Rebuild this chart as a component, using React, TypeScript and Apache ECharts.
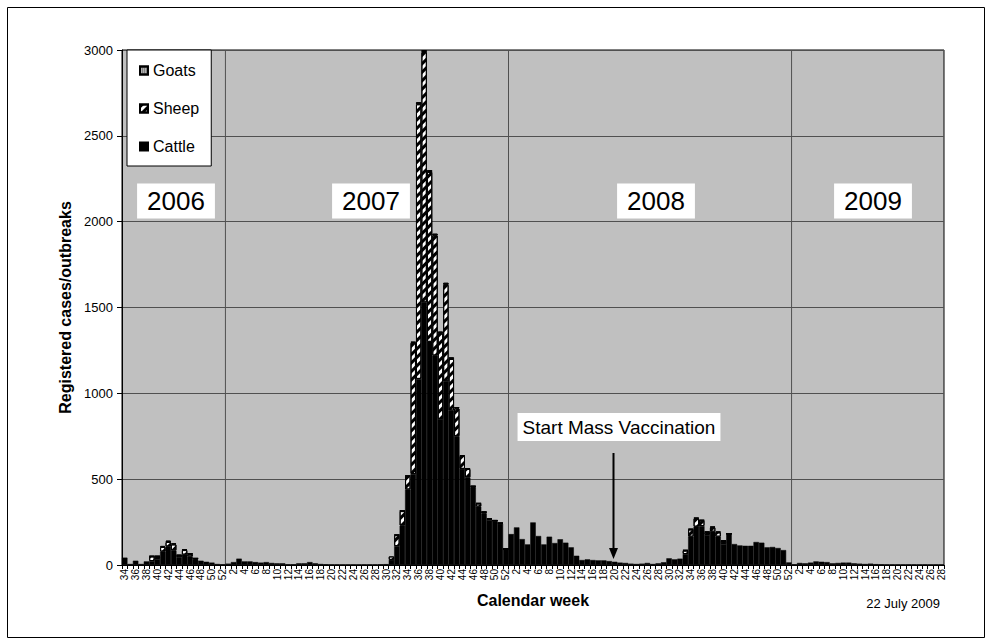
import React, { useEffect, useRef } from "react";
import * as echarts from "echarts";

const FONT = "'Liberation Sans', Arial, Helvetica, sans-serif";

// Calendar weeks (tick labels)
const weeks2006 = [34, 35, 36, 37, 38, 39, 40, 41, 42, 43, 44, 45, 46, 47, 48, 49, 50, 51, 52];
const weeks2007 = [1, 2, 3, 4, 5, 6, 7, 8, 9, 10, 11, 12, 13, 14, 15, 16, 17, 18, 19, 20, 21, 22, 23, 24, 25, 26, 27, 28, 29, 30, 31, 32, 33, 34, 35, 36, 37, 38, 39, 40, 41, 42, 43, 44, 45, 46, 47, 48, 49, 50, 51, 52];
const weeks2008 = [1, 2, 3, 4, 5, 6, 7, 8, 9, 10, 11, 12, 13, 14, 15, 16, 17, 18, 19, 20, 21, 22, 23, 24, 25, 26, 27, 28, 29, 30, 31, 32, 33, 34, 35, 36, 37, 38, 39, 40, 41, 42, 43, 44, 45, 46, 47, 48, 49, 50, 51, 52];
const weeks2009 = [1, 2, 3, 4, 5, 6, 7, 8, 9, 10, 11, 12, 13, 14, 15, 16, 17, 18, 19, 20, 21, 22, 23, 24, 25, 26, 27, 28];

// Cattle
const cattle2006 = [43, 6, 25, 6, 21, 23, 35, 78, 107, 85, 45, 60, 50, 32, 25, 19, 14, 6, 4];
const cattle2007 = [8, 17, 37, 21, 21, 17, 14, 17, 12, 10, 10, 4, 4, 10, 10, 17, 10, 6, 4, 3, 3, 2, 2, 2, 2, 3, 3, 3, 4, 5, 30, 110, 230, 440, 530, 1084, 1530, 1300, 1220, 850, 1070, 900, 750, 560, 510, 450, 340, 300, 262, 255, 240, 92];
const cattle2008 = [180, 219, 151, 120, 248, 169, 120, 165, 128, 150, 130, 103, 54, 29, 33, 29, 27, 27, 23, 19, 14, 12, 8, 6, 8, 12, 6, 10, 16, 39, 33, 37, 64, 165, 223, 227, 175, 194, 165, 122, 180, 122, 114, 112, 112, 134, 130, 103, 105, 99, 87, 15];
const cattle2009 = [4, 12, 10, 14, 21, 19, 17, 10, 12, 14, 14, 10, 8, 6, 8, 5, 4, 3, 3, 3, 2, 3, 3, 2, 3, 2, 2, 2];

// Sheep
const sheep2006 = [0, 0, 0, 0, 0, 27, 15, 27, 27, 35, 11, 27, 15, 6, 0, 0, 0, 0, 0];
const sheep2007 = [0, 0, 0, 0, 0, 0, 0, 0, 0, 0, 0, 0, 0, 0, 0, 0, 0, 0, 0, 0, 0, 0, 0, 0, 0, 0, 0, 0, 0, 0, 20, 64, 84, 78, 765, 1600, 1458, 990, 700, 500, 562, 300, 162, 75, 50, 8, 18, 8, 6, 4, 4, 2];
const sheep2008 = [0, 0, 0, 0, 0, 0, 0, 0, 0, 0, 0, 0, 0, 0, 0, 0, 0, 0, 0, 0, 0, 0, 0, 0, 0, 0, 0, 0, 0, 0, 0, 0, 20, 42, 48, 32, 16, 25, 25, 18, 2, 0, 0, 0, 0, 0, 0, 0, 0, 0, 0, 0];
const sheep2009 = [0, 0, 0, 0, 0, 0, 0, 0, 0, 0, 0, 0, 0, 0, 0, 0, 0, 0, 0, 0, 0, 0, 0, 0, 0, 0, 0, 0];

// Goats
const goats2006 = [0, 0, 0, 0, 0, 2, 2, 6, 8, 6, 2, 4, 3, 1, 0, 0, 0, 0, 0];
const goats2007 = [0, 0, 0, 0, 0, 0, 0, 0, 0, 0, 0, 0, 0, 0, 0, 0, 0, 0, 0, 0, 0, 0, 0, 0, 0, 0, 0, 0, 0, 0, 0, 2, 2, 2, 5, 12, 12, 10, 10, 10, 12, 10, 8, 5, 4, 2, 2, 2, 2, 1, 1, 1];
const goats2008 = [0, 0, 0, 0, 0, 0, 0, 0, 0, 0, 0, 0, 0, 0, 0, 0, 0, 0, 0, 0, 0, 0, 0, 0, 0, 0, 0, 0, 0, 0, 0, 0, 3, 3, 4, 3, 3, 4, 4, 2, 2, 0, 0, 0, 0, 0, 0, 0, 0, 0, 0, 0];
const goats2009 = [0, 0, 0, 0, 0, 0, 0, 0, 0, 0, 0, 0, 0, 0, 0, 0, 0, 0, 0, 0, 0, 0, 0, 0, 0, 0, 0, 0];

const yearLabels = ["2006", "2007", "2008", "2009"];
const vaccinationYearIndex = 2; // 2008
const vaccinationWeek = 20;

export default function App() {
  const ref = useRef<HTMLDivElement>(null);

  useEffect(() => {
    if (!ref.current) return;
    const chart = echarts.init(ref.current, undefined, { renderer: "svg" });

    const yearWeeks = [weeks2006, weeks2007, weeks2008, weeks2009];
    const categories = ([] as number[]).concat(...yearWeeks).map(String);
    const nz = (arr: number[]) => arr.map((v) => (v === 0 ? "-" : v));
    const cattle = nz([...cattle2006, ...cattle2007, ...cattle2008, ...cattle2009]);
    const sheep = nz([...sheep2006, ...sheep2007, ...sheep2008, ...sheep2009]);
    const goats = nz([...goats2006, ...goats2007, ...goats2008, ...goats2009]);

    const option: any = {
      animation: false,
      backgroundColor: "#ffffff",
      textStyle: { fontFamily: FONT, color: "#000" },
      legend: {
        data: ["Goats", "Sheep", "Cattle"],
        orient: "vertical",
        left: 127,
        top: 50,
        icon: "rect",
        itemWidth: 8,
        itemHeight: 8,
        itemGap: 21,
        padding: [12, 12, 11, 12],
        backgroundColor: "#ffffff",
        borderColor: "#000",
        borderWidth: 1,
        selectedMode: false,
        textStyle: { fontSize: 16, color: "#000", fontFamily: FONT, lineHeight: 17 },
        z: 20,
      },
      grid: {
        left: 122,
        top: 50,
        width: 822,
        height: 515,
        show: true,
        backgroundColor: "#c0c0c0",
        borderColor: "#000",
        borderWidth: 1,
      },
      xAxis: {
        type: "category",
        data: categories,
        boundaryGap: true,
        name: "Calendar week",
        nameLocation: "middle",
        nameGap: 27,
        nameTextStyle: { fontSize: 16, fontWeight: "bold", color: "#000", fontFamily: FONT },
        axisLine: { lineStyle: { color: "#000", width: 1 } },
        axisTick: { show: true, interval: 0, length: 4, lineStyle: { color: "#000" } },
        axisLabel: { interval: 1, rotate: 90, fontSize: 10, color: "#000", margin: 4, fontFamily: FONT },
        splitLine: { show: false },
      },
      yAxis: {
        type: "value",
        min: 0,
        max: 3000,
        interval: 500,
        name: "Registered cases/outbreaks",
        nameLocation: "middle",
        nameGap: 46,
        nameTextStyle: { fontSize: 16, fontWeight: "bold", color: "#000", fontFamily: FONT },
        axisLine: { show: true, lineStyle: { color: "#000", width: 1 } },
        axisTick: { show: true, length: 5, lineStyle: { color: "#000" } },
        axisLabel: {
          fontSize: 13,
          color: "#000",
          margin: 9,
          fontFamily: FONT,
          formatter: (v: number) => String(v),
        },
        splitLine: { show: true, lineStyle: { color: "#505050", width: 1 } },
      },
      series: [
        {
          name: "Cattle",
          type: "bar",
          stack: "all",
          data: cattle,
          barCategoryGap: "0%",
          itemStyle: { color: "#000000", borderColor: "#000", borderWidth: 0.5 },
        },
        {
          name: "Sheep",
          type: "bar",
          stack: "all",
          data: sheep,
          barCategoryGap: "0%",
          itemStyle: {
            color: "#ffffff",
            borderColor: "#000",
            borderWidth: 1,
            decal: {
              symbol: "rect",
              symbolSize: 1,
              color: "#000000",
              dashArrayX: [1, 0],
              dashArrayY: [3, 3],
              rotation: -Math.PI / 4,
            },
          },
        },
        {
          name: "Goats",
          type: "bar",
          stack: "all",
          data: goats,
          barCategoryGap: "0%",
          itemStyle: {
            color: "#b0b0b0",
            borderColor: "#000",
            borderWidth: 1,
            decal: {
              symbol: "rect",
              symbolSize: 0.8,
              color: "#404040",
              dashArrayX: [1, 1],
              dashArrayY: [1, 1],
            },
          },
        },
      ],
    };
    chart.setOption(option);

    // Year boundary positions, from the category scale
    const px = (i: number) => chart.convertToPixel({ xAxisIndex: 0 }, i) as number;
    const boundaries: number[] = [];
    let idx = 0;
    for (let y = 0; y < yearWeeks.length - 1; y++) {
      idx += yearWeeks[y].length;
      boundaries.push((px(idx - 1) + px(idx)) / 2);
    }
    const top = 50;
    const bottom = 565;

    let vaccIdx = 0;
    for (let y = 0; y < vaccinationYearIndex; y++) vaccIdx += yearWeeks[y].length;
    vaccIdx += yearWeeks[vaccinationYearIndex].indexOf(vaccinationWeek);
    const ax = Math.round(px(vaccIdx)) - 1.5;

    const yearCenters = [176, 371, 656, 873];

    const graphic: any[] = [
      {
        type: "rect",
        shape: { x: 7.5, y: 7.5, width: 977, height: 630 },
        style: { fill: "none", stroke: "#000", lineWidth: 1 },
        z: 0,
        silent: true,
      },
      ...boundaries.map((bx) => ({
        type: "line",
        shape: { x1: bx, y1: top, x2: bx, y2: bottom },
        style: { stroke: "#505050", lineWidth: 1 },
        z: 1,
        silent: true,
      })),
      ...yearLabels.map((t, i) => ({
        type: "text",
        x: yearCenters[i],
        y: 201,
        style: {
          text: t,
          fontSize: 26,
          fontFamily: FONT,
          fill: "#000",
          backgroundColor: "#ffffff",
          padding: [5, 10, 4, 10],
          align: "center",
          verticalAlign: "middle",
        },
        z: 10,
      })),
      {
        type: "text",
        x: 619,
        y: 427,
        style: {
          text: "Start Mass Vaccination",
          fontSize: 19,
          fontFamily: FONT,
          fill: "#000",
          backgroundColor: "#ffffff",
          padding: [5, 5, 4, 5],
          align: "center",
          verticalAlign: "middle",
        },
        z: 10,
      },
      {
        type: "line",
        shape: { x1: ax, y1: 453, x2: ax, y2: 550 },
        style: { stroke: "#000", lineWidth: 2 },
        z: 10,
      },
      {
        type: "polygon",
        shape: { points: [[ax - 4.5, 548], [ax + 4.5, 548], [ax, 559]] },
        style: { fill: "#000" },
        z: 10,
      },
      {
        type: "text",
        x: 940,
        y: 603,
        style: {
          text: "22 July 2009",
          fontSize: 13,
          fontFamily: FONT,
          fill: "#000",
          align: "right",
          verticalAlign: "middle",
        },
        z: 10,
      },
    ];
    chart.setOption({ graphic });

    return () => {
      chart.dispose();
    };
  }, []);

  return (
    <div
      ref={ref}
      style={{ position: "absolute", left: 0, top: 0, width: 991, height: 644 }}
    />
  );
}
